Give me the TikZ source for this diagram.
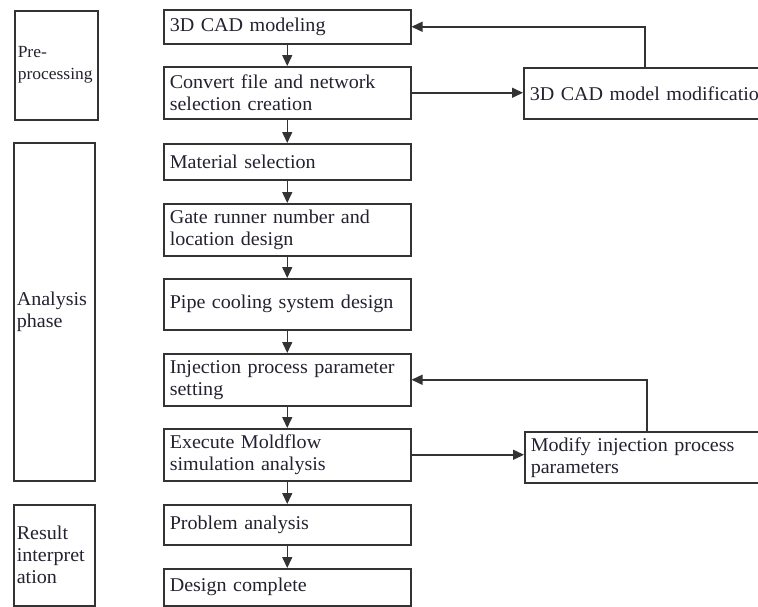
\documentclass[tikz,border=0pt]{standalone}
\usepackage{fontspec}
\setmainfont{Liberation Serif}[FakeStretch=1.03]
\usetikzlibrary{arrows.meta}

\definecolor{linec}{HTML}{333333}
\definecolor{txtc}{HTML}{222230}

\tikzset{
  stage/.style={draw=linec, line width=1.5pt, text=txtc, anchor=north west,
    text width=235pt, inner xsep=6pt, inner ysep=0pt, align=left,
    font=\fontsize{19.5}{22}\selectfont},
  phase/.style={draw=linec, line width=1.5pt, text=txtc, anchor=north west,
    inner xsep=3pt, inner ysep=0pt, align=left,
    font=\fontsize{19.5}{22}\selectfont},
  flow/.style={draw=linec, line width=1.5pt, -{Triangle[length=11pt,width=10pt]}}
}

\begin{document}
\begin{tikzpicture}[x=1pt, y=-1pt]
  \useasboundingbox (0,0) rectangle (758,606);
  \clip (0,0) rectangle (758,606);

  % Phases
  \node[phase, text width=77pt, minimum height=109pt] (pre) at (14,10)
    {\fontsize{17}{20}\selectfont Pre-\\processing};
  \node[phase, text width=75pt, minimum height=338pt] (ana) at (13,142) {Analysis\\phase};
  \node[phase, text width=75pt, minimum height=101pt] (res) at (13,504) {Result\\interpret\\ation};

  % Main chain
  \node[stage, minimum height=34pt] (cad) at (163,9) {3D CAD modeling};
  \node[stage, minimum height=52pt] (conv) at (163,66) {Convert file and network\\selection creation};
  \node[stage, minimum height=36pt] (mat) at (163,143) {Material selection};
  \node[stage, minimum height=52pt] (gate) at (163,203) {Gate runner number and\\location design};
  \node[stage, minimum height=51pt] (pipe) at (163,278) {Pipe cooling system design};
  \node[stage, minimum height=52pt] (inj) at (163,353) {Injection process parameter\\setting};
  \node[stage, minimum height=52pt] (exe) at (163,428) {Execute Moldflow\\simulation analysis};
  \node[stage, minimum height=40pt] (prob) at (163,504) {Problem analysis};
  \node[stage, minimum height=37pt] (done) at (163,568) {Design complete};

  % Modification loops
  \node[stage, text width=300pt, minimum height=51pt] (modcad) at (523,67) {3D CAD model modification};
  \node[stage, text width=300pt, minimum height=51pt] (modinj) at (524,431) {Modify injection process\\parameters};

  % Arrows down the chain
  \foreach \a/\b in {cad/conv, conv/mat, mat/gate, gate/pipe, pipe/inj, inj/exe, exe/prob, prob/done}
    \draw[flow] (\a.south) -- (\b.north);

  % Arrows out and back
  \draw[flow] (conv.east) -- (conv.east -| modcad.west);
  \draw[flow] (modcad.north west) ++(122,0) |- (cad.east);
  \draw[flow] (exe.east) -- (exe.east -| modinj.west);
  \draw[flow] (modinj.north west) ++(123,0) |- (inj.east);

\end{tikzpicture}
\end{document}
